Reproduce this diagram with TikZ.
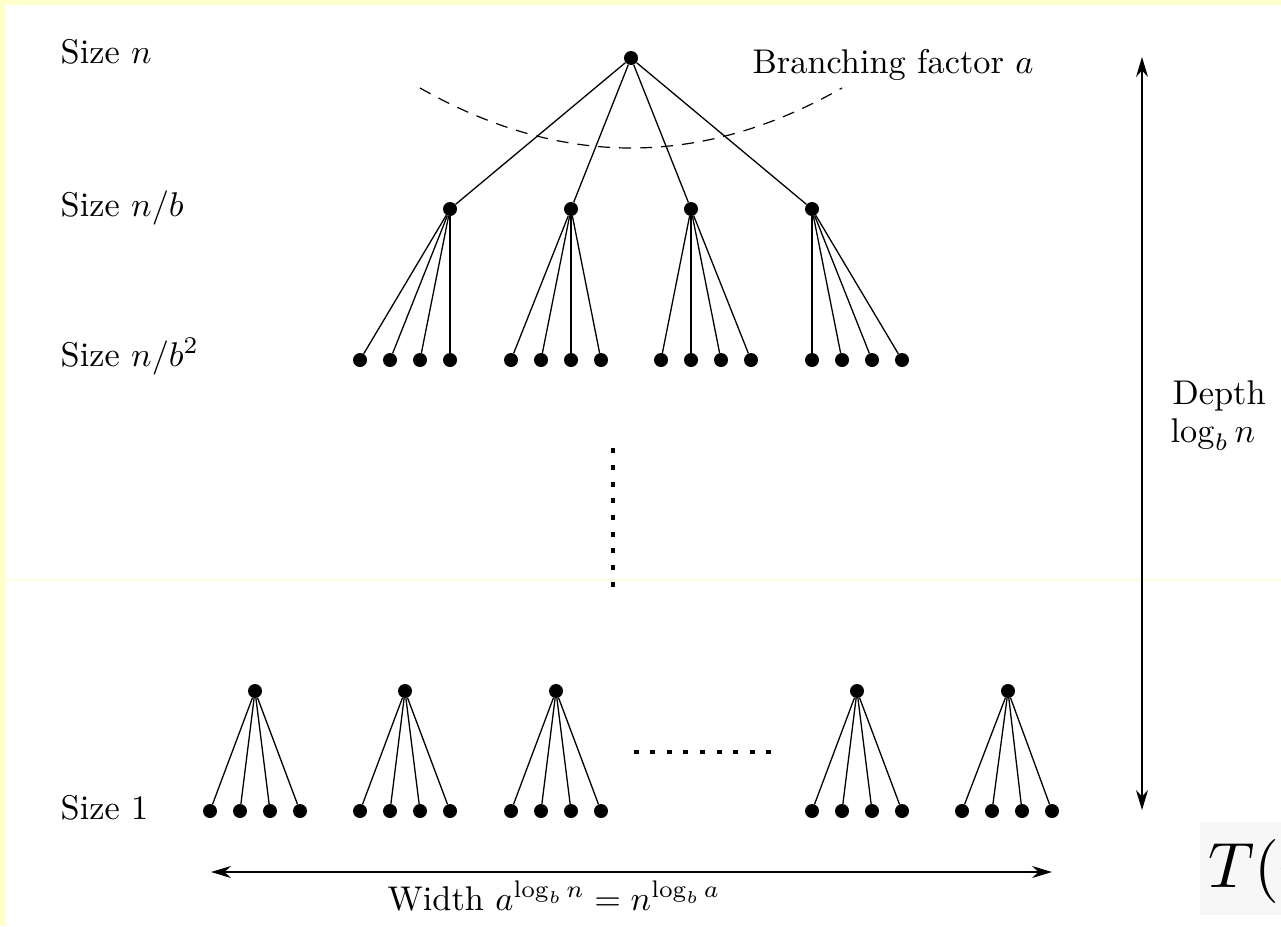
\documentclass[tikz,border=0pt]{standalone}
\usetikzlibrary{arrows.meta}
\definecolor{paper}{RGB}{255,255,204}
\definecolor{seam}{RGB}{255,255,222}
\begin{document}
\begin{tikzpicture}[x=1pt,y=-1pt,
  dot/.style={circle,fill=black,inner sep=0pt,minimum size=14pt},
  edge/.style={line width=1.3pt},
  lbl/.style={anchor=base west,inner sep=0pt,scale=3.43,transform shape},
  dim/.style={line width=1.3pt,{Stealth[length=20pt,width=12pt]}-{Stealth[length=20pt,width=12pt]}}]
% page and margins
\useasboundingbox (0,0) rectangle (1281,926);
\fill[paper] (0,0) rectangle (1281,926);
\fill[white] (6,5) rectangle (1281,926);
\draw[seam,line width=1.5pt] (6,580) -- (1281,580);

% root and first level
\node[dot] (r) at (631,58) {};
\foreach \i/\x in {1/450,2/571,3/691,4/812}{
  \node[dot] (a\i) at (\x,209) {};
  \draw[edge] (r) -- (a\i);
}
% second level
\foreach \i/\s in {1/360,2/511,3/661,4/812}{
  \foreach \j in {0,1,2,3}{
    \node[dot] (b\i\j) at ({\s+30*\j},360) {};
    \draw[edge] (a\i) -- (b\i\j);
  }
}
% bottom level
\foreach \i/\p/\s in {1/255/210,2/405/360,3/556/511,4/857/812,5/1008/962}{
  \node[dot] (p\i) at (\p,691) {};
  \foreach \j in {0,1,2,3}{
    \node[dot] (q\i\j) at ({\s+30*\j},811) {};
    \draw[edge] (p\i) -- (q\i\j);
  }
}

% branching arc
\coordinate (arcL) at (420,88);
\coordinate (arcR) at (842,88);
\draw[line width=1.2pt,dash pattern=on 12pt off 9pt] (arcL) .. controls (561,168) and (701,168) .. (arcR);

% ellipses
\foreach \k in {0,...,8}{
  \node[fill=black,inner sep=0pt,minimum width=4pt,minimum height=5pt] (v\k) at (613,{450.7+16.7*\k}) {};
  \node[fill=black,inner sep=0pt,minimum width=5pt,minimum height=4pt] (h\k) at ({636+16.6*\k},752) {};
}

% labels
\node[lbl] (s0) at (60,63) {Size $n$};
\node[lbl] (s1) at (60,216) {Size $n/b$};
\node[lbl] (s2) at (60,366) {Size $n/b^2$};
\node[lbl] (s3) at (60,819) {Size 1};
\node[lbl] (bf) at (752,73) {Branching factor $a$};
\node[lbl] (dp) at (1172,404) {Depth};
\node[lbl] (lg) at (1170,442) {$\log_b n$};
\node[lbl] (wd) at (387,910) {Width $a^{\log_b n} = n^{\log_b a}$};

% depth and width arrows
\coordinate (dtop) at (1142,57);
\coordinate (dbot) at (1142,810);
\draw[dim] (dtop) -- (dbot);
\coordinate (wl) at (211,872);
\coordinate (wr) at (1052,872);
\draw[dim] (wl) -- (wr);

% recurrence fragment at the corner
\begin{scope}
\clip (0,0) rectangle (1281,926);
\fill[black!3] (1200,822) rectangle (1290,915);
\node[anchor=base west,inner sep=0pt,scale=6.4,transform shape] (tn) at (1207,887) {$T(n)$};
\end{scope}
\end{tikzpicture}
\end{document}
